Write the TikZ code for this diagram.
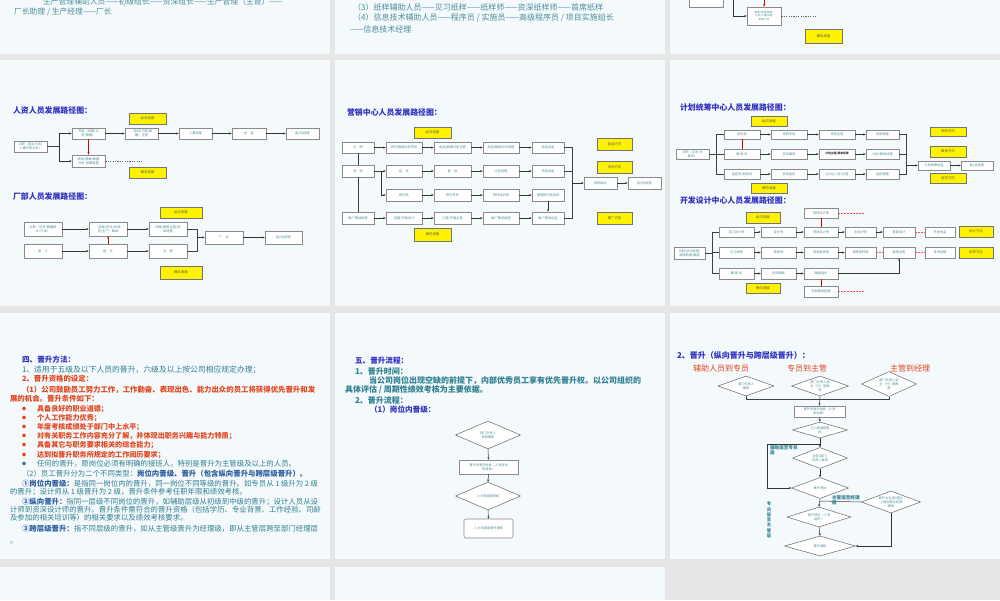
\documentclass[tikz,border=0pt]{standalone}
\usepackage{fontspec}
\setmainfont{Noto Sans CJK SC}
\usetikzlibrary{arrows.meta,shapes.geometric}
\definecolor{pagebg}{HTML}{E6E6E6}
\definecolor{slidebg}{HTML}{F4F9FC}
\definecolor{ttlblue}{HTML}{3030C0}
\definecolor{teal1}{HTML}{2F8090}
\definecolor{teal0}{HTML}{4A8F9A}
\definecolor{tealb}{HTML}{2B5E9E}
\definecolor{redt}{HTML}{E2461E}
\definecolor{boxtxt}{HTML}{4A8C96}
\definecolor{boxline}{HTML}{8A8A8A}
\newcommand\bx[7][bx]{\pgfmathsetmacro\bxw{#5-#3}\pgfmathsetmacro\bxh{#6-#4}%
  \node[#1,minimum width=\bxw mm,minimum height=\bxh mm] (#2) at ({(#3+#5)/2},{(#4+#6)/2}) {#7};}
\newcommand\dm[7][dmd]{\pgfmathsetmacro\dmasp{#5/#6}%
  \node[#1,minimum width=#5 mm,minimum height=#6 mm,aspect=\dmasp] (#2) at (#3,#4) {#7};}
\tikzset{
 bx/.style={draw=boxline, fill=white, line width=0.6mm, inner sep=0.3mm, text=boxtxt, font=\fontsize{3.2mm}{3.9mm}\selectfont, align=center},
 yb/.style={draw=black!55, fill=yellow, line width=0.7mm, inner sep=0.3mm, text=black!65, font=\fontsize{3.4mm}{4mm}\selectfont},
 dmd/.style={diamond, draw=black!60, fill=white, line width=0.5mm, inner sep=0.3mm, text=boxtxt, font=\fontsize{3.2mm}{3.9mm}\selectfont, align=center},
 rbx/.style={bx, rounded corners=2mm},
 arr/.style={draw=black!80, line width=0.5mm, -{Stealth[length=2.4mm,width=2mm]}},
 ln/.style={draw=black!75, line width=0.5mm},
 rarr/.style={draw=red!85!black, line width=0.5mm, -{Stealth[length=2.4mm,width=2mm]}},
 rln/.style={draw=red!80!black, line width=0.5mm},
 dotl/.style={draw=black!60, line width=0.45mm, dash pattern=on 1.2mm off 1.2mm},
 rdot/.style={draw=red!70, line width=0.45mm, dash pattern=on 1.5mm off 1.5mm},
 tl0/.style={anchor=west, inner sep=0, text=teal0, font=\fontsize{7.8mm}{9mm}\selectfont},
 hd/.style={anchor=west, inner sep=0, text=ttlblue, font=\fontsize{7.9mm}{9mm}\selectfont\bfseries},
 tl/.style={anchor=west, inner sep=0, text=teal1, font=\fontsize{7.4mm}{9mm}\selectfont},
 tlb/.style={anchor=west, inner sep=0, text=teal1, font=\fontsize{8mm}{9mm}\selectfont\bfseries},
 hb/.style={anchor=west, inner sep=0, text=ttlblue, font=\fontsize{7.6mm}{9mm}\selectfont\bfseries},
 rdb/.style={anchor=west, inner sep=0, text=redt, font=\fontsize{7.4mm}{9mm}\selectfont\bfseries},
 rdi/.style={anchor=west, inner sep=0, text=redt, font=\fontsize{7.1mm}{9mm}\selectfont\bfseries},
 bul/.style={inner sep=0, font=\fontsize{4mm}{4mm}\selectfont},
 lbl/.style={inner sep=0, text=teal1, font=\fontsize{4.6mm}{5.6mm}\selectfont\bfseries, align=left},
 rh/.style={inner sep=0, text=redt, font=\fontsize{8mm}{9mm}\selectfont},
}
\begin{document}
\begin{tikzpicture}[x=1mm,y=-1mm]
\useasboundingbox (0,0) rectangle (1000,600);
\fill[pagebg] (0,0) rectangle (1000,600);
\foreach \a/\b/\c/\d in {0/0/330/54, 335/0/665/54, 670/0/1000/54, 0/60/330/306, 335/60/665/306, 670/60/1000/306, 0/313/330/559, 335/313/665/559, 670/313/1000/559, 0/567/330/600, 335/567/665/600}
  \fill[slidebg] (\a,\b) rectangle (\c,\d);

% ---------- row 0 ----------
\begin{scope}
\clip (0,0) rectangle (330,54);
\node[tl0] (r0a) at (43,1.5) {生产管理辅助人员——初级组长——资深组长——生产管理（主管）——};
\node[tl0] (r0b) at (14,11.5) {厂长助理 / 生产经理——厂长};
\end{scope}
\node[tl0,font=\fontsize{8mm}{9mm}\selectfont] (r0c) at (353,7.5) {（3）纸样辅助人员——见习纸样——纸样师——资深纸样师——首席纸样};
\node[tl0,font=\fontsize{8mm}{9mm}\selectfont] (r0d) at (353,18) {（4）信息技术辅助人员——程序员 / 实施员——高级程序员 / 项目实施组长};
\node[tl0,font=\fontsize{8mm}{9mm}\selectfont] (r0e) at (350,29) {——信息技术经理};
\begin{scope}
\clip (670,0) rectangle (1000,54);
\bx{z1}{689}{-3}{723}{7.5}{}
\bx[bx,font=\fontsize{2.6mm}{3.3mm}\selectfont]{z2}{747}{7}{781}{25}{辅单/开版/版单/\\分析/人事/出版\\助理人员}
\coordinate (zt) at (764,-2);
\coordinate (zl) at (733,-2);
\draw[rarr] (zt) -- (z2.north);
\draw[arr] (zl) |- (z2.west);
\draw[dotl] (z2.east) -- (816,16);
\bx[yb]{zY}{805}{29}{842}{43}{横向发展}
\end{scope}

% ---------- 人资 ----------
\node[hd] (hT) at (13,111) {人资人员发展路径图：};
\bx[yb]{hY1}{129}{113}{166}{124}{纵向发展}
\bx{hA}{14}{141}{47}{152}{文职（前台文员/\\人事行政文员）}
\bx{hB}{72}{128}{105}{139}{专员（招聘/文\\员/薪酬）}
\bx{hC}{125}{128}{158}{139}{（培训/行政/薪\\酬）主管}
\bx{hD}{179}{128}{212}{139}{人事经理}
\bx{hE}{232}{128}{266}{139}{总\quad 监}
\bx{hF}{286}{128}{319}{139}{副/总经理}
\bx{hG}{72}{155}{105}{167}{绩效/薪酬/数据\\分析/招聘管理}
\bx[yb]{hY2}{129}{167}{166}{178}{横向发展}
\coordinate (hj) at (59,146.5);
\draw[ln] (hA.east) -- (hj);
\draw[arr] (hj) |- (hB.west);
\draw[arr] (hj) |- (hG.west);
\draw[arr] (hB) -- (hC);
\draw[arr] (hC) -- (hD);
\draw[arr] (hD) -- (hE);
\draw[arr] (hE) -- (hF);
\draw[rarr] (hB.south) -- (hG.north);
\draw[dotl] (hG.east) -- (142,161);

% ---------- 厂部 ----------
\node[hd] (fT) at (13,197) {厂部人员发展路径图：};
\bx[yb]{fY1}{160}{207}{202}{218}{纵向发展}
\bx{f11}{24}{222}{62}{236}{文职（文员/数据统\\计/打单）}
\bx{f12}{89}{222}{127}{236}{（选板/洗水/印绣\\花/生产）跟单}
\bx{f13}{149}{222}{187}{236}{网络/跟单主管/项\\目经理}
\bx{f21}{24}{244}{62}{258}{普\quad 工}
\bx{f22}{89}{244}{127}{258}{组\quad 长}
\bx{f23}{149}{244}{187}{258}{主\quad 管}
\bx{f3}{205}{231}{243}{244}{厂\quad 长}
\bx{f4}{265}{231}{302}{244}{副/总经理}
\bx[yb]{fY2}{160}{266}{202}{279}{横向发展}
\draw[arr] (f11) -- (f12);
\draw[arr] (f12) -- (f13);
\draw[arr] (f21) -- (f22);
\draw[arr] (f22) -- (f23);
\draw[rarr] (f22.north) -- (f12.south);
\coordinate (fa) at (197,229);
\coordinate (fb) at (197,251);
\draw[ln] (f13.east) -- (fa) -- (fb) -- (f23.east);
\draw[arr] (f3.west -| fa) -- (f3.west);
\draw[arr] (f3) -- (f4);

% ---------- 营销 ----------
\node[hd] (mT) at (347,113) {营销中心人员发展路径图：};
\bx[yb]{mY1}{414}{127}{451}{138}{纵向发展}
\bx{m00}{342}{142}{374}{153}{文\quad 职}
\bx{m01}{386}{142}{422}{153}{陈列/数据分析专员}
\bx{m02}{434}{142}{471}{153}{商品/数据分析主管}
\bx{m03}{483}{142}{519}{153}{商品/数据分析经理}
\bx{m04}{532}{142}{564}{153}{商品总监}
\bx{m10}{342}{165}{374}{177}{导\quad 购}
\bx{m11}{386}{165}{422}{177}{店\quad 长}
\bx{m12}{434}{165}{471}{177}{督\quad 导}
\bx{m13}{483}{165}{519}{177}{大区经理}
\bx{m14}{532}{165}{564}{177}{市场总监}
\bx{m21}{386}{189}{422}{201}{陈列员}
\bx{m22}{434}{189}{471}{201}{陈列专员}
\bx{m23}{483}{189}{519}{201}{陈列培训师}
\bx{m24}{532}{189}{564}{201}{营销陈列培训师}
\bx{m30}{342}{212}{374}{224}{推广策划助理}
\bx{m31}{386}{212}{422}{224}{店铺/平面设计}
\bx{m32}{434}{212}{471}{224}{工程/平面主管}
\bx{m33}{483}{212}{519}{224}{推广策划经理}
\bx{m34}{532}{212}{564}{224}{推广策划总监}
\bx{mVP}{584}{177}{617}{189}{营销副总}
\bx{mGM}{628}{177}{661}{189}{副/总经理}
\bx[yb]{mY2}{597}{138}{632}{150}{商品方向}
\bx[yb]{mY3}{597}{161}{632}{173}{市场方向}
\bx[yb]{mY4}{597}{212}{632}{224}{推广方向}
\bx[yb]{mY5}{414}{228}{451}{241}{横向发展}
\draw[ln] (m00.south) -- (m10.north);
\draw[ln] (m10.south) -- (m30.north);
\coordinate (mj) at (381,171);
\draw[ln] (m10.east) -- (mj);
\draw[arr] (mj) -- (m11.west);
\draw[arr] (mj) |- (m21.west);
\foreach \r in {0,1,3}{
  \draw[arr] (m\r1) -- (m\r2);
  \draw[arr] (m\r2) -- (m\r3);
  \draw[arr] (m\r3) -- (m\r4);}
\draw[arr] (m00) -- (m01);
\draw[arr] (m30) -- (m31);
\draw[arr] (m21) -- (m22);
\draw[arr] (m22) -- (m23);
\draw[arr] (m23) -- (m24);
\draw[arr] (m24.south) -- (m34.north);
\coordinate (mb1) at (572,147.5);
\coordinate (mb2) at (572,218);
\draw[ln] (m04.east) -- (mb1) -- (mb2) -- (m34.east);
\draw[ln] (m14.east) -- (m14.east -| mb1);
\draw[arr] (mVP.west -| mb1) -- (mVP.west);
\draw[arr] (mVP) -- (mGM);

% ---------- 计划 ----------
\node[hd] (pT) at (680,107) {计划统筹中心人员发展路径图：};
\bx[yb]{pY1}{751}{116}{787}{126}{纵向发展}
\bx{p0}{676}{149}{709}{159}{文职（文员/仓\\管员）}
\bx{p11}{724}{130}{760}{139}{采购员}
\bx{p12}{771}{130}{807}{139}{采购专员}
\bx{p13}{819}{130}{855}{139}{采购主管}
\bx{p14}{866}{130}{899}{139}{采购经理}
\bx{p21}{724}{149}{760}{159}{跟\ 单\ 员}
\bx{p22}{771}{149}{807}{159}{资深跟单}
\bx[bx,text=black!80,font=\fontsize{2.8mm}{3.4mm}\selectfont\bfseries]{p23}{819}{149}{855}{159}{计划主管/跟单经理}
\bx{p24}{866}{149}{899}{159}{计划/跟单经理}
\bx{p31}{724}{169}{760}{179}{品控员/检验员}
\bx{p32}{771}{169}{807}{179}{资深品控}
\bx{p33}{819}{169}{855}{179}{QA/QC/QE/主管}
\bx{p34}{866}{169}{899}{179}{品控经理}
\bx{pD}{918}{161}{950}{170}{计划统筹总监}
\bx{pGM}{961}{161}{993}{170}{副/总经理}
\bx[yb]{pY2}{930}{127}{966}{136}{采购方向}
\bx[yb]{pY3}{930}{146}{966}{157}{跟单方向}
\bx[yb]{pY4}{930}{173}{966}{183}{品控方向}
\bx[yb]{pY5}{751}{183}{787}{193}{横向发展}
\coordinate (pa) at (716,134.5);
\coordinate (pb) at (716,174);
\draw[ln] (p0.east) -- (p0.east -| pa);
\draw[ln] (p11.west) -- (pa) -- (pb) -- (p31.west);
\draw[ln] (p21.west -| pa) -- (p21.west);
\foreach \r in {1,2,3}{
  \draw[arr] (p\r1) -- (p\r2);
  \draw[arr] (p\r2) -- (p\r3);
  \draw[arr] (p\r3) -- (p\r4);}
\draw[rln] (p11.south) -- (p21.north);
\coordinate (pc) at (906,134.5);
\coordinate (pd) at (906,174);
\draw[ln] (p14.east) -- (pc) -- (pd) -- (p34.east);
\draw[ln] (p24.east) -- (p24.east -| pc);
\draw[arr] (pD.west -| pc) -- (pD.west);
\draw[arr] (pD) -- (pGM);

% ---------- 开发 ----------
\node[hd] (dT) at (680,201) {开发设计中心人员发展路径图：};
\bx[yb]{dY1}{746}{212}{780}{223}{纵向发展}
\bx{dTop}{804}{208}{838}{218}{陈列设计师}
\bx{d0}{674}{247}{705}{259}{文职/设计助理/\\纸样助理/跟版}
\bx{d11}{719}{227}{754}{237}{见习设计师}
\bx{d12}{761}{227}{796}{237}{设计师}
\bx{d13}{804}{227}{838}{237}{资深设计师}
\bx{d14}{845}{227}{876}{237}{主设计师}
\bx{d15}{883}{227}{915}{237}{首席设计}
\bx{d16}{925}{227}{955}{237}{开发总监}
\bx{d21}{719}{247}{754}{258}{见习纸样}
\bx{d22}{761}{247}{796}{258}{纸样师}
\bx{d23}{804}{247}{838}{258}{资深纸样师}
\bx{d24}{845}{247}{876}{258}{首席纸样师}
\bx{d25}{883}{247}{915}{258}{版房主管}
\bx{d26}{925}{247}{955}{258}{技术经理}
\bx{d31}{719}{268}{754}{279}{跟\ 版\ 员}
\bx{d32}{761}{268}{796}{279}{资深跟版}
\bx{d33}{804}{268}{838}{279}{跟版组长}
\bx{dBot}{804}{286}{838}{297}{项目跟单经理}
\bx[yb]{dY2}{746}{283}{780}{293}{横向发展}
\bx[yb]{dY3}{959}{226}{993}{237}{设计方向}
\bx[yb]{dY4}{959}{247}{993}{258}{纸样方向}
\coordinate (da) at (712,232);
\coordinate (db) at (712,273.5);
\draw[ln] (d0.east) -- (d0.east -| da);
\draw[ln] (d11.west) -- (da) -- (db) -- (d31.west);
\draw[ln] (d21.west -| da) -- (d21.west);
\draw[arr] (d11) -- (d12);
\draw[arr] (d12) -- (d13);
\draw[arr] (d13) -- (d14);
\draw[arr] (d14) -- (d15);
\draw[rdot] (d15) -- (d16);
\draw[arr] (d21) -- (d22);
\draw[arr] (d22) -- (d23);
\draw[arr] (d23) -- (d24);
\draw[rdot] (d24) -- (d25);
\draw[rdot] (d25) -- (d26);
\draw[arr] (d31) -- (d32);
\draw[arr] (d32) -- (d33);
\draw[arr] (d33.east) -| (d25.south);
\draw[rln] (dTop.south) -- (d13.north);
\draw[rln] (d33.south) -- (dBot.north);
\draw[rdot] (dTop.east) -- (865,213);
\draw[rdot] (dBot.east) -- (865,291.5);

% ---------- row 2, slide 1 ----------
\node[hb] (s1a) at (22,360) {四、晋升方法：};
\node[tl,font=\fontsize{7.8mm}{9mm}\selectfont] (s1b) at (22,370) {1、适用于五级及以下人员的晋升，六级及以上按公司相应规定办理；};
\node[rdb] (s1c) at (22,379) {2、晋升资格的设定：};
\node[rdb] (s1d) at (22,390) {（1）公司鼓励员工努力工作，工作勤奋、表现出色、能力出众的员工将获得优先晋升和发};
\node[rdb] (s1e) at (10,399) {展的机会。晋升条件如下：};
\foreach \yy/\tt in {409/具备良好的职业道德；, 418/个人工作能力优秀；, 427/年度考核成绩处于部门中上水平；, 436/对有关职务工作内容充分了解，并体现出职务兴趣与能力特质；, 445/具备其它与职务要求相关的综合能力；, 455/达到拟晋升职务所规定的工作阅历要求；}{
  \node[bul,text=redt] at (24,\yy) {●};
  \node[rdi] at (37,\yy) {\tt};}
\node[bul,text=teal1] (s1bul) at (24,464) {●};
\node[tl] (s1f) at (37,464) {任何的晋升，原岗位必须有明确的接班人，特别是晋升为主管级及以上的人员。};
\node[tl] (s1g) at (22,474) {（2）员工晋升分为二个不同类型：{\color{tealb}\bfseries 岗位内晋级、晋升（包含纵向晋升与跨层级晋升）。}};
\node[tl] (s1h) at (22,484) {{\color{tealb}\bfseries ①岗位内晋级：}是指同一岗位内的晋升，同一岗位不同等级的晋升。如专员从 1 级升为 2 级};
\node[tl] (s1i) at (10,492) {的晋升；设计师从 1 级晋升为 2 级，晋升条件参考任职年限和绩效考核。};
\node[tl] (s1j) at (22,502) {{\color{tealb}\bfseries ②纵向晋升：}指同一层级不同岗位的晋升，如辅助层级从初级到中级的晋升；设计人员从设};
\node[tl] (s1k) at (10,510) {计师到资深设计师的晋升。晋升条件需符合的晋升资格（包括学历、专业背景、工作经验、司龄};
\node[tl] (s1l) at (10,518) {及参加的相关培训等）的相关要求以及绩效考核要求。};
\node[tl] (s1m) at (22,529) {{\color{tealb}\bfseries ③跨层级晋升：}指不同层级的晋升，如从主管级晋升为经理级，即从主管层跨至部门经理层};
\node[tl] (s1n) at (10,543) {。};

% ---------- row 2, slide 2 ----------
\node[hb] (s2a) at (355,361) {五、晋升流程：};
\node[tlb] (s2b) at (355,371) {1、晋升时间：};
\node[tlb] (s2c) at (369,381) {当公司岗位出现空缺的前提下，内部优秀员工享有优先晋升权。以公司组织的};
\node[tlb] (s2d) at (345,390) {具体评估 / 周期性绩效考核为主要依据。};
\node[tlb] (s2e) at (355,400) {2、晋升流程：};
\node[hb] (s2f) at (370,410) {（1）岗位内晋级：};
\dm{q1}{488}{435}{65}{28}{部门负责人\\审核推荐}
\bx{q2}{459}{460}{518}{474}{晋升申请评估表（人员异动\\申请单）}
\dm{q3}{488}{496}{65}{28}{人力资源部审核}
\bx[rbx]{q4}{464}{519}{513}{538}{人力资源部晋升通知}
\draw[arr] (q1.south) -- (q2.north);
\draw[arr] (q2.south) -- (q3.north);
\draw[arr] (q3.south) -- (q4.north);

% ---------- row 2, slide 3 ----------
\node[hb,font=\fontsize{8mm}{9mm}\selectfont\bfseries] (s3a) at (677,355) {2、晋升（纵向晋升与跨层级晋升）：};
\node[rh] (s3b) at (721,368) {辅助人员到专员};
\node[rh] (s3c) at (807,368) {专员到主管};
\node[rh] (s3d) at (910,368) {主管到经理};
\dm{v1}{746}{386}{56}{20}{部门负责人\\推荐}
\dm{v2}{820}{386}{57}{20}{部门负责人或\\主（分）管推\\荐}
\dm{v3}{889}{384}{55}{25}{部门负责人或\\主（分）管推\\荐}
\bx{v4}{794}{406}{845}{417}{晋升申请评估表（人员\\异动表）}
\dm{v5}{820}{430}{55}{16}{人力资源部审\\核}
\dm{v6}{820}{458}{55}{21}{业务(部门)\\负责人复核}
\dm{v7}{820}{488}{57}{21}{晋升考试}
\dm{v8}{891}{502}{59}{22}{晋升为主(副)管以\\上岗位需总经理\\审批}
\dm{v9}{819}{517}{64}{20}{晋升评估（人资\\组织）}
\dm{v10}{820}{546}{71}{20}{晋升通知}
\coordinate (vy1) at (746,399);
\coordinate (vy3) at (889,399);
\draw[ln] (v1.south) -- (vy1) -- (vy3) -- (v3.south);
\draw[arr] (v2.south) -- (v4.north);
\draw[arr] (v4.south) -- (v5.north);
\draw[arr] (v5.south) -- (v6.north);
\coordinate (vj) at (820,444);
\coordinate (vL) at (767,444);
\draw[arr] (vj) -- (vL) |- (v7.west);
\draw[arr] (v6.south) -- (v7.north);
\draw[arr] (v7.south) -- (v9.north);
\coordinate (vk) at (820,501);
\draw[ln] (vk) -- (v8.west);
\draw[arr] (v9.south) -- (v10.north);
\draw[arr] (v8.south) |- (v10.east);
\node[lbl,anchor=north west] (la) at (770,445) {辅助层至专员\\层};
\node[lbl,anchor=south west] (lb) at (832,505.5) {主管层至经理\\层};
\node[lbl,align=center,font=\fontsize{4.3mm}{5.3mm}\selectfont\bfseries] (lc) at (769,520) {专\\员\\层\\至\\主\\管\\层};
\end{tikzpicture}
\end{document}
